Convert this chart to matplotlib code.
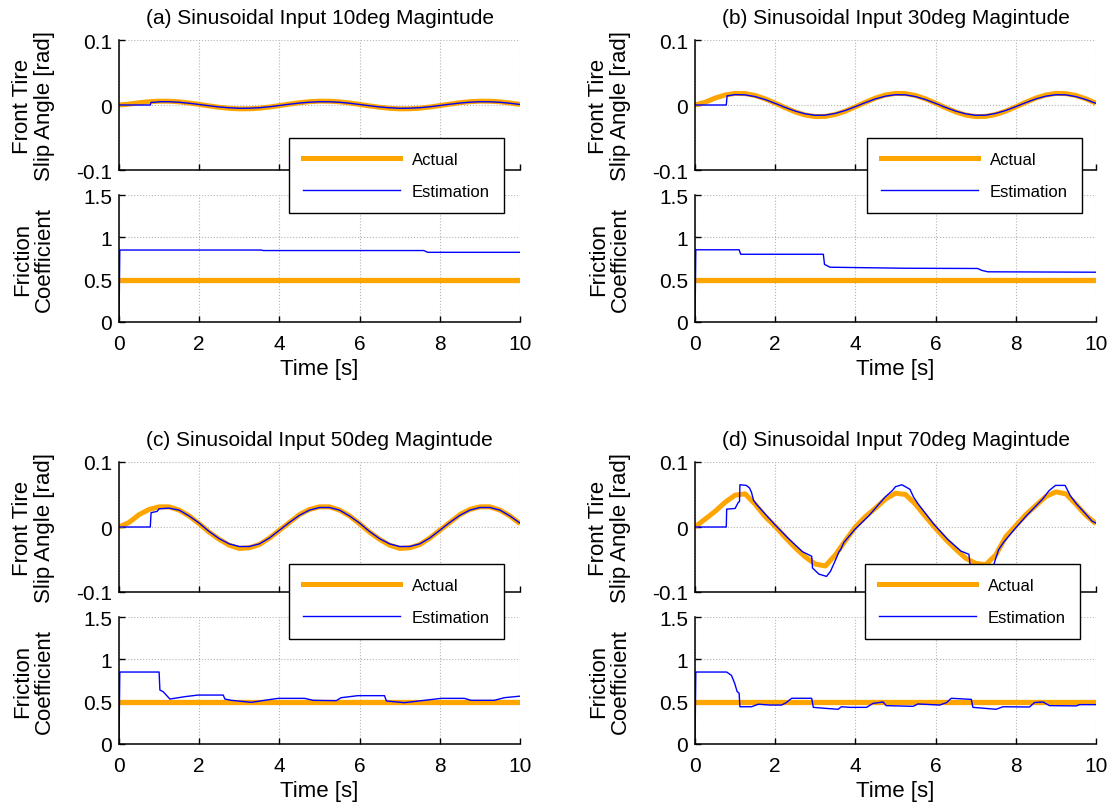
import numpy as np
import matplotlib
matplotlib.use("Agg")
import matplotlib.pyplot as plt
from matplotlib.lines import Line2D

plt.rcParams['font.family'] = ['Liberation Sans', 'DejaVu Sans']
plt.rcParams['axes.unicode_minus'] = False

ORANGE = '#ffa500'
BLUE = '#0000ff'

TITLES = ["(a) Sinusoidal Input 10deg Magintude",
          "(b) Sinusoidal Input 30deg Magintude",
          "(c) Sinusoidal Input 50deg Magintude",
          "(d) Sinusoidal Input 70deg Magintude"]

X_TICKS = [0, 2, 4, 6, 8, 10]
X_TICKLABELS = ["0", "2", "4", "6", "8", "10"]
SLIP_TICKS = [-0.1, 0, 0.1]
SLIP_TICKLABELS = ["-0.1", "0", "0.1"]
MU_TICKS = [0, 0.5, 1, 1.5]
MU_TICKLABELS = ["0", "0.5", "1", "1.5"]

# time grid of the actual slip angle (0.25 s)
t_slip = [0, 0.25, 0.5, 0.75, 1.0, 1.25, 1.5, 1.75, 2.0, 2.25, 2.5, 2.75, 3.0, 3.25,
          3.5, 3.75, 4.0, 4.25, 4.5, 4.75, 5.0, 5.25, 5.5, 5.75, 6.0, 6.25, 6.5, 6.75,
          7.0, 7.25, 7.5, 7.75, 8.0, 8.25, 8.5, 8.75, 9.0, 9.25, 9.5, 9.75, 10.0]
# estimator time grid for (a)-(c): stays 0 until ~0.8 s
t_est = [0, 0.78, 0.8, 0.95, 1.0, 1.25, 1.5, 1.75, 2.0, 2.25, 2.5, 2.75, 3.0, 3.25,
         3.5, 3.75, 4.0, 4.25, 4.5, 4.75, 5.0, 5.25, 5.5, 5.75, 6.0, 6.25, 6.5, 6.75,
         7.0, 7.25, 7.5, 7.75, 8.0, 8.25, 8.5, 8.75, 9.0, 9.25, 9.5, 9.75, 10.0]

# (a) 10 deg
slip_act_a = [0, 0.0014, 0.0035, 0.0051, 0.0059, 0.0058, 0.0049, 0.0031, 0.0009, -0.0014,
              -0.0035, -0.0051, -0.0059, -0.0058, -0.0049, -0.0031, -0.0009, 0.0014, 0.0035,
              0.0051, 0.0059, 0.0058, 0.0049, 0.0031, 0.0009, -0.0014, -0.0035, -0.0051,
              -0.0059, -0.0058, -0.0049, -0.0031, -0.0009, 0.0014, 0.0035, 0.0051, 0.0059,
              0.0058, 0.0049, 0.0031, 0.0009]
slip_est_a = [0, 0, 0.004, 0.0045, 0.005, 0.005, 0.0042, 0.0027, 0.0008, -0.0012, -0.003,
              -0.0043, -0.005, -0.0049, -0.0042, -0.0027, -0.0008, 0.0012, 0.003, 0.0043,
              0.005, 0.0049, 0.0042, 0.0027, 0.0008, -0.0012, -0.003, -0.0043, -0.005,
              -0.0049, -0.0042, -0.0027, -0.0008, 0.0012, 0.003, 0.0043, 0.005, 0.0049,
              0.0042, 0.0027, 0.0008]
t_mu_a = [0, 0.02, 3.55, 3.6, 7.6, 7.7, 10]
mu_est_a = [0, 0.85, 0.85, 0.844, 0.844, 0.823, 0.823]

# (b) 30 deg
slip_act_b = [0, 0.0042, 0.0106, 0.0154, 0.0178, 0.0175, 0.0146, 0.0094, 0.0028, -0.0042,
              -0.0106, -0.0154, -0.0178, -0.0175, -0.0146, -0.0094, -0.0028, 0.0042, 0.0106,
              0.0154, 0.0178, 0.0175, 0.0146, 0.0094, 0.0028, -0.0042, -0.0106, -0.0154,
              -0.0178, -0.0175, -0.0146, -0.0094, -0.0028, 0.0042, 0.0106, 0.0154, 0.0178,
              0.0175, 0.0146, 0.0094, 0.0028]
slip_est_b = [0, 0, 0.014, 0.0155, 0.016, 0.0156, 0.0129, 0.0084, 0.0025, -0.0037, -0.0094,
              -0.0136, -0.0158, -0.0156, -0.0129, -0.0084, -0.0025, 0.0037, 0.0094, 0.0136,
              0.0158, 0.0156, 0.0129, 0.0084, 0.0025, -0.0037, -0.0094, -0.0136, -0.0158,
              -0.0156, -0.0129, -0.0084, -0.0025, 0.0037, 0.0094, 0.0136, 0.0158, 0.0156,
              0.0129, 0.0084, 0.0025]
t_mu_b = [0, 0.02, 1.1, 1.14, 3.2, 3.23, 3.37, 5.2, 7.05, 7.15, 7.3, 10]
mu_est_b = [0, 0.853, 0.853, 0.80, 0.80, 0.68, 0.647, 0.635, 0.632, 0.61, 0.593, 0.588]

# (c) 50 deg
slip_act_c = [0, 0.007, 0.019, 0.027, 0.031, 0.031, 0.026, 0.017, 0.005, -0.008, -0.019,
              -0.028, -0.033, -0.032, -0.027, -0.017, -0.005, 0.007, 0.019, 0.027, 0.031,
              0.031, 0.026, 0.017, 0.005, -0.008, -0.019, -0.028, -0.033, -0.032, -0.027,
              -0.017, -0.005, 0.007, 0.019, 0.027, 0.031, 0.031, 0.026, 0.017, 0.005]
slip_est_c = [0, 0, 0.022, 0.024, 0.028, 0.029, 0.026, 0.017, 0.006, -0.007, -0.018, -0.026,
              -0.030, -0.030, -0.026, -0.017, -0.005, 0.007, 0.018, 0.026, 0.030, 0.030,
              0.026, 0.017, 0.006, -0.007, -0.018, -0.026, -0.030, -0.030, -0.026, -0.017,
              -0.005, 0.007, 0.018, 0.026, 0.030, 0.030, 0.026, 0.017, 0.006]
t_mu_c = [0, 0.02, 1.0, 1.02, 1.1, 1.27, 1.64, 1.97, 2.6, 2.64, 2.8, 3.3, 3.63, 3.97, 4.63,
          4.84, 5.42, 5.54, 5.96, 6.62, 6.67, 7.12, 7.62, 8.03, 8.61, 8.78, 9.36, 9.61, 10]
mu_est_c = [0, 0.85, 0.85, 0.637, 0.618, 0.531, 0.559, 0.578, 0.578, 0.531, 0.516, 0.492,
            0.516, 0.539, 0.539, 0.516, 0.512, 0.547, 0.571, 0.571, 0.508, 0.488, 0.516,
            0.539, 0.539, 0.516, 0.516, 0.547, 0.565]

# (d) 70 deg
slip_act_d = [0, 0.012, 0.024, 0.038, 0.049, 0.051, 0.035, 0.016, 0.001, -0.016, -0.032,
              -0.046, -0.057, -0.060, -0.043, -0.021, 0.0, 0.016, 0.029, 0.043, 0.052, 0.050,
              0.035, 0.016, -0.002, -0.019, -0.034, -0.048, -0.056, -0.058, -0.043, -0.015,
              0.002, 0.019, 0.033, 0.047, 0.054, 0.051, 0.035, 0.018, 0.005]
t_est_d = [0, 0.78, 0.79, 1.0, 1.08, 1.11, 1.12, 1.28, 1.36, 1.41,
           1.46, 1.53, 1.75, 2.0, 2.35, 2.68, 2.91, 2.93, 3.09, 3.28,
           3.38, 3.51, 3.59, 3.63, 3.71, 3.98, 4.33, 4.74, 4.92, 5.0,
           5.16, 5.36, 5.45, 5.57, 5.96, 6.3, 6.63, 6.83, 6.87, 7.05,
           7.25, 7.35, 7.45, 7.57, 7.69, 7.96, 8.26, 8.67, 8.83, 8.99,
           9.23, 9.36, 9.52, 9.73, 9.9, 10.0]
slip_est_d = [0, 0, 0.0275, 0.0285, 0.038, 0.039, 0.065, 0.064, 0.060, 0.053,
              0.041, 0.035, 0.020, 0.003, -0.019, -0.038, -0.045, -0.063, -0.0725, -0.076,
              -0.068, -0.050, -0.038, -0.035, -0.024, -0.004, 0.017, 0.046, 0.056, 0.062,
              0.065, 0.058, 0.046, 0.035, 0.004, -0.019, -0.037, -0.042, -0.063, -0.073,
              -0.076, -0.068, -0.058, -0.035, -0.024, -0.004, 0.017, 0.043, 0.056, 0.064,
              0.064, 0.048, 0.035, 0.021, 0.009, 0.006]
t_mu_d = [0, 0.02, 0.79, 0.91, 0.99, 1.05, 1.10, 1.12, 1.41, 1.58, 1.87, 2.16, 2.28, 2.41,
          2.91, 2.95, 3.28, 3.57, 3.65, 3.86, 4.28, 4.44, 4.69, 4.77, 5.44, 5.56, 6.10,
          6.27, 6.39, 6.89, 6.93, 7.51, 7.68, 8.34, 8.47, 8.68, 8.84, 9.51, 9.59, 10]
mu_est_d = [0, 0.85, 0.85, 0.81, 0.716, 0.62, 0.60, 0.44, 0.44, 0.47, 0.46, 0.46, 0.49,
            0.54, 0.54, 0.433, 0.42, 0.41, 0.44, 0.433, 0.433, 0.48, 0.496, 0.453, 0.445,
            0.473, 0.46, 0.488, 0.54, 0.527, 0.433, 0.41, 0.44, 0.437, 0.49, 0.496, 0.453,
            0.45, 0.465, 0.465]

# actual friction coefficient (constant)
t_mu_act = [0, 10]
mu_act = [0.5, 0.5]

W, H = 1117, 812


def style(ax, ticks, ticklabels, show_x):
    ax.set_xlim(0, 10)
    ax.set_xticks(X_TICKS)
    ax.set_yticks(ticks)
    ax.set_yticklabels(ticklabels)
    if show_x:
        ax.set_xticklabels(X_TICKLABELS)
    else:
        ax.set_xticklabels([])
    ax.grid(True, ls=':', color='#b4b4b4', lw=0.8)
    for s in ['top', 'right']:
        ax.spines[s].set_visible(False)
    for s in ['left', 'bottom']:
        ax.spines[s].set_linewidth(1.1)
    ax.tick_params(direction='in', length=4, width=1, labelsize=15)
    ax.tick_params(axis='x', pad=9)
    ax.tick_params(axis='y', pad=5)


def panel(col_px, row_px, title, slip_act, t_e, slip_est, t_mu, mu_est):
    # row_px: top pixel of slip axes
    ax1 = fig.add_axes([col_px / W, 1 - (row_px + 130) / H, 401 / W, 130 / H])
    ax2 = fig.add_axes([col_px / W, 1 - (row_px + 282) / H, 401 / W, 127 / H])

    ax1.plot(t_slip, slip_act, color=ORANGE, lw=3.6, solid_capstyle='butt')
    ax1.plot(t_e, slip_est, color=BLUE, lw=1.0)
    ax1.set_ylim(-0.1, 0.1)
    style(ax1, SLIP_TICKS, SLIP_TICKLABELS, False)
    ax1.set_title(title, fontsize=15, pad=12)
    ax1.set_ylabel("Front Tire\nSlip Angle [rad]", fontsize=16, linespacing=1.05)
    ax1.yaxis.set_label_coords(-0.16, 0.5)

    ax2.plot(t_mu_act, mu_act, color=ORANGE, lw=3.8, solid_capstyle='butt')
    ax2.plot(t_mu, mu_est, color=BLUE, lw=1.0)
    ax2.set_ylim(0, 1.5)
    style(ax2, MU_TICKS, MU_TICKLABELS, True)
    ax2.set_ylabel("Friction\nCoefficient", fontsize=16, linespacing=1.05)
    ax2.yaxis.set_label_coords(-0.16, 0.5)
    ax2.set_xlabel("Time [s]", fontsize=16, labelpad=3)


def add_legend(x_px, y_px):
    handles = [Line2D([], [], color=ORANGE, lw=3.6), Line2D([], [], color=BLUE, lw=1.0)]
    leg = fig.legend(handles, ["Actual", "Estimation"], loc='upper left',
                     bbox_to_anchor=(x_px / W, 1 - y_px / H), fontsize=12,
                     frameon=True, fancybox=False, edgecolor='black', framealpha=1,
                     borderaxespad=0, borderpad=0.85, handlelength=5.8,
                     handletextpad=0.7, labelspacing=1.0)
    leg.get_frame().set_linewidth(1.0)


fig = plt.figure(figsize=(W / 100, H / 100), dpi=100)

panel(119, 41, TITLES[0], slip_act_a, t_est, slip_est_a, t_mu_a, mu_est_a)
panel(695, 41, TITLES[1], slip_act_b, t_est, slip_est_b, t_mu_b, mu_est_b)
panel(119, 463, TITLES[2], slip_act_c, t_est, slip_est_c, t_mu_c, mu_est_c)
panel(695, 463, TITLES[3], slip_act_d, t_est_d, slip_est_d, t_mu_d, mu_est_d)

add_legend(289, 139)
add_legend(867, 139)
add_legend(289, 565)
add_legend(865, 565)

fig.savefig("out.png", dpi=100)
